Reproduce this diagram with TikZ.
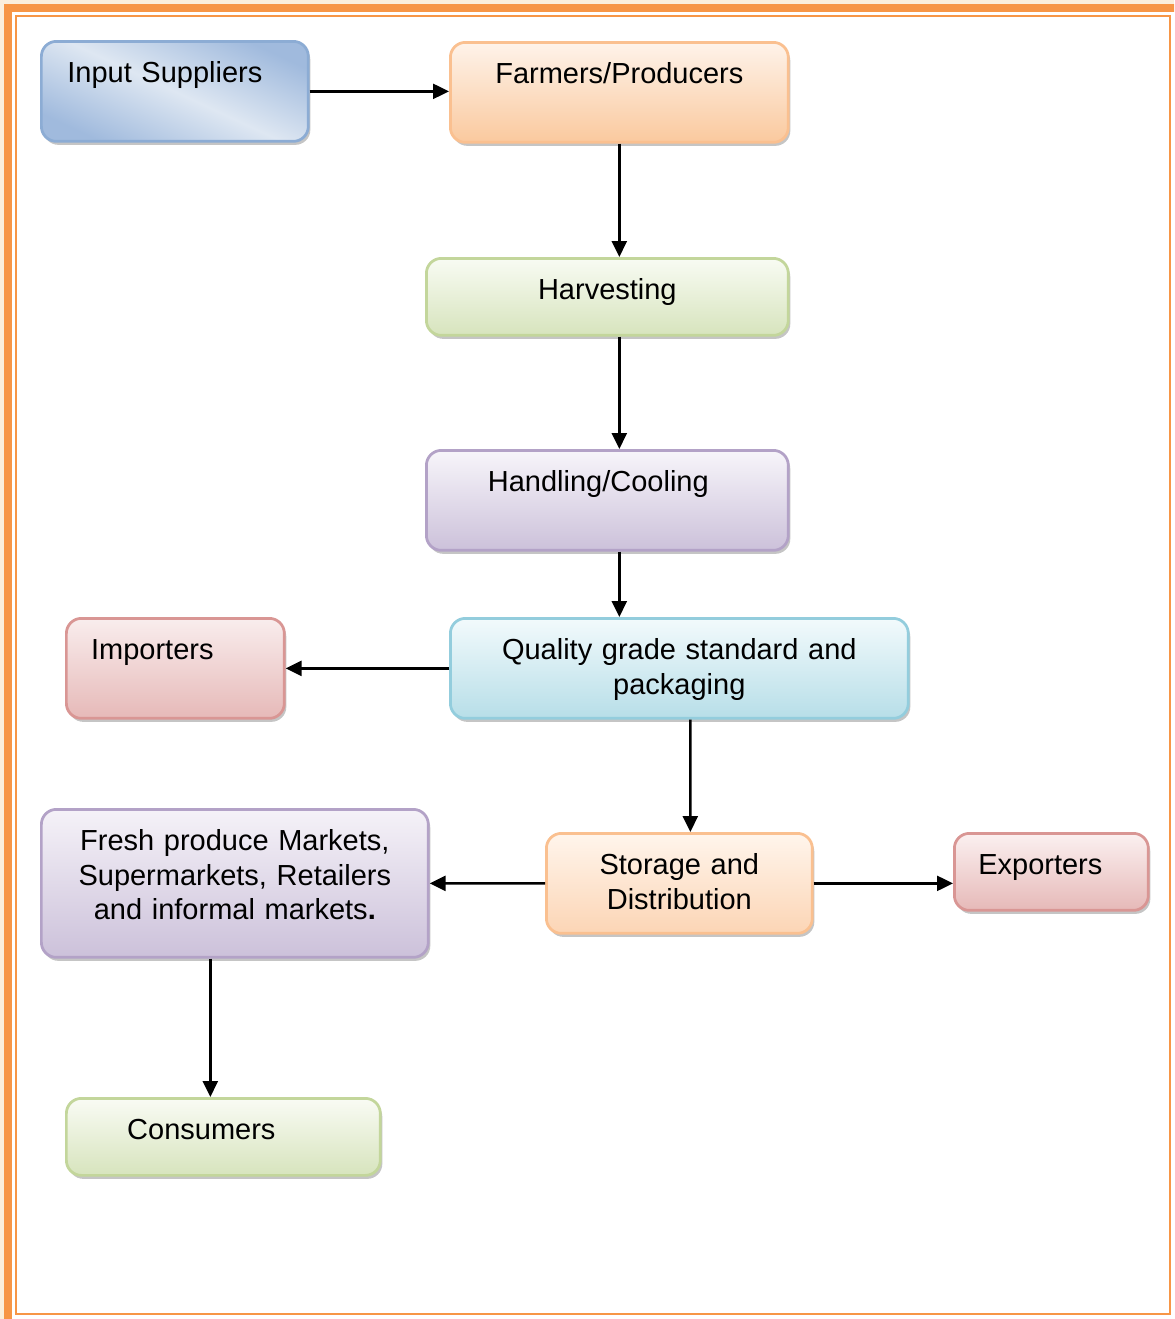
\documentclass[tikz,border=0pt]{standalone}
\usepackage{fontspec}
\setmainfont{Liberation Sans}
\usepackage{xcolor}
\usetikzlibrary{arrows.meta,shadows}

\definecolor{frameorange}{HTML}{F79646}
\definecolor{pagecream}{HTML}{FBEFDC}

\begin{document}
\begin{tikzpicture}[x=0.02cm,y=-0.02cm,
    flowbox/.style={draw, rounded corners=0.3cm, line width=0.055cm,
        inner xsep=0pt, inner ysep=0pt, text height=0.82cm, text depth=1.18cm,
        align=center, anchor=north west, font=\fontsize{16.5}{19.8}\selectfont,
        drop shadow={shadow xshift=0.04cm, shadow yshift=-0.07cm, fill=black!45}},
    short/.style={text depth=0.72cm},
    nudge/.style={execute at end node={\hspace*{#1}}},
    link/.style={-{Triangle[length=0.32cm,width=0.3cm]}, line width=0.05cm}]
    \useasboundingbox (0,0) rectangle (1174,1319);
    \clip (0,0) rectangle (1174,1319);
    % Draw the page frame
    \fill[pagecream] (0,0) rectangle (1174,1319);
    \fill[white] (12,11) rectangle (1174,1319);
    \draw[frameorange, line width=0.16cm] (8,7.5) rectangle (1182,1322.5);
    \draw[frameorange, line width=0.04cm] (16,15.5) rectangle (1170,1314);
    % Draw the boxes of the chain
    \node[flowbox, text width=5.34cm, nudge=0.4cm, draw={rgb,255:red,140;green,172;blue,212},
        top color={rgb,255:red,160;green,186;blue,221}, bottom color={rgb,255:red,160;green,186;blue,221},
        middle color={rgb,255:red,222;green,231;blue,242}, shading angle=-25]
        (input) at (40,40) {Input Suppliers};
    \node[flowbox, text width=6.76cm, draw={rgb,255:red,250;green,192;blue,144},
        top color={rgb,255:red,254;green,243;blue,234}, bottom color={rgb,255:red,250;green,201;blue,158}]
        (farm) at (449,41) {Farmers/Producers};
    \node[flowbox, short, text width=7.24cm, draw={rgb,255:red,195;green,214;blue,155},
        top color={rgb,255:red,248;green,251;blue,243}, bottom color={rgb,255:red,215;green,228;blue,189}]
        (harv) at (425,257) {Harvesting};
    \node[flowbox, text width=7.24cm, nudge=0.36cm, draw={rgb,255:red,179;green,162;blue,199},
        top color={rgb,255:red,247;green,245;blue,250}, bottom color={rgb,255:red,204;green,193;blue,218}]
        (hand) at (425,449) {Handling/Cooling};
    \node[flowbox, text width=4.36cm, nudge=0.92cm, draw={rgb,255:red,217;green,150;blue,148},
        top color={rgb,255:red,249;green,237;blue,237}, bottom color={rgb,255:red,230;green,185;blue,184}]
        (imp) at (65,617) {Importers};
    \node[flowbox, text width=9.16cm, draw={rgb,255:red,147;green,205;blue,221},
        top color={rgb,255:red,242;green,250;blue,252}, bottom color={rgb,255:red,183;green,222;blue,232}]
        (qual) at (449,617) {Quality grade standard and\\packaging};
    \node[flowbox, text width=7.74cm, text depth=2.14cm, draw={rgb,255:red,179;green,162;blue,199},
        top color={rgb,255:red,245;green,242;blue,248}, bottom color={rgb,255:red,204;green,193;blue,218}]
        (fresh) at (40,808) {Fresh produce Markets,\\Supermarkets, Retailers\\and informal markets\textbf{.}};
    \node[flowbox, text width=5.32cm, draw={rgb,255:red,250;green,192;blue,144},
        top color={rgb,255:red,255;green,245;blue,236}, bottom color={rgb,255:red,252;green,213;blue,181}]
        (stor) at (545,832) {Storage and\\Distribution};
    \node[flowbox, short, text width=3.88cm, nudge=0.44cm, draw={rgb,255:red,217;green,150;blue,148},
        top color={rgb,255:red,251;green,240;blue,240}, bottom color={rgb,255:red,230;green,185;blue,184}]
        (exp) at (953,832) {Exporters};
    \node[flowbox, short, text width=6.28cm, nudge=0.88cm, draw={rgb,255:red,195;green,214;blue,155},
        top color={rgb,255:red,249;green,251;blue,244}, bottom color={rgb,255:red,215;green,228;blue,189}]
        (cons) at (65,1097) {Consumers};
    % Draw the arrows between the boxes
    \draw[link] (input.east) -- (input.east -| farm.west);
    \draw[link] (farm.south) -- (farm.south |- harv.north);
    \draw[link] (harv.south -| farm.south) -- (hand.north -| farm.south);
    \draw[link] (hand.south -| farm.south) -- (qual.north -| farm.south);
    \draw[link] (qual.west) -- (imp.east);
    \draw[link] ([xshift=0.22cm]qual.south) -- ([xshift=0.22cm]stor.north);
    \draw[link] (stor.west) -- (fresh.east);
    \draw[link] (stor.east) -- (stor.east -| exp.west);
    \draw[link] ([xshift=-0.49cm]fresh.south) -- ([xshift=-0.49cm]fresh.south |- cons.north);
\end{tikzpicture}
\end{document}
